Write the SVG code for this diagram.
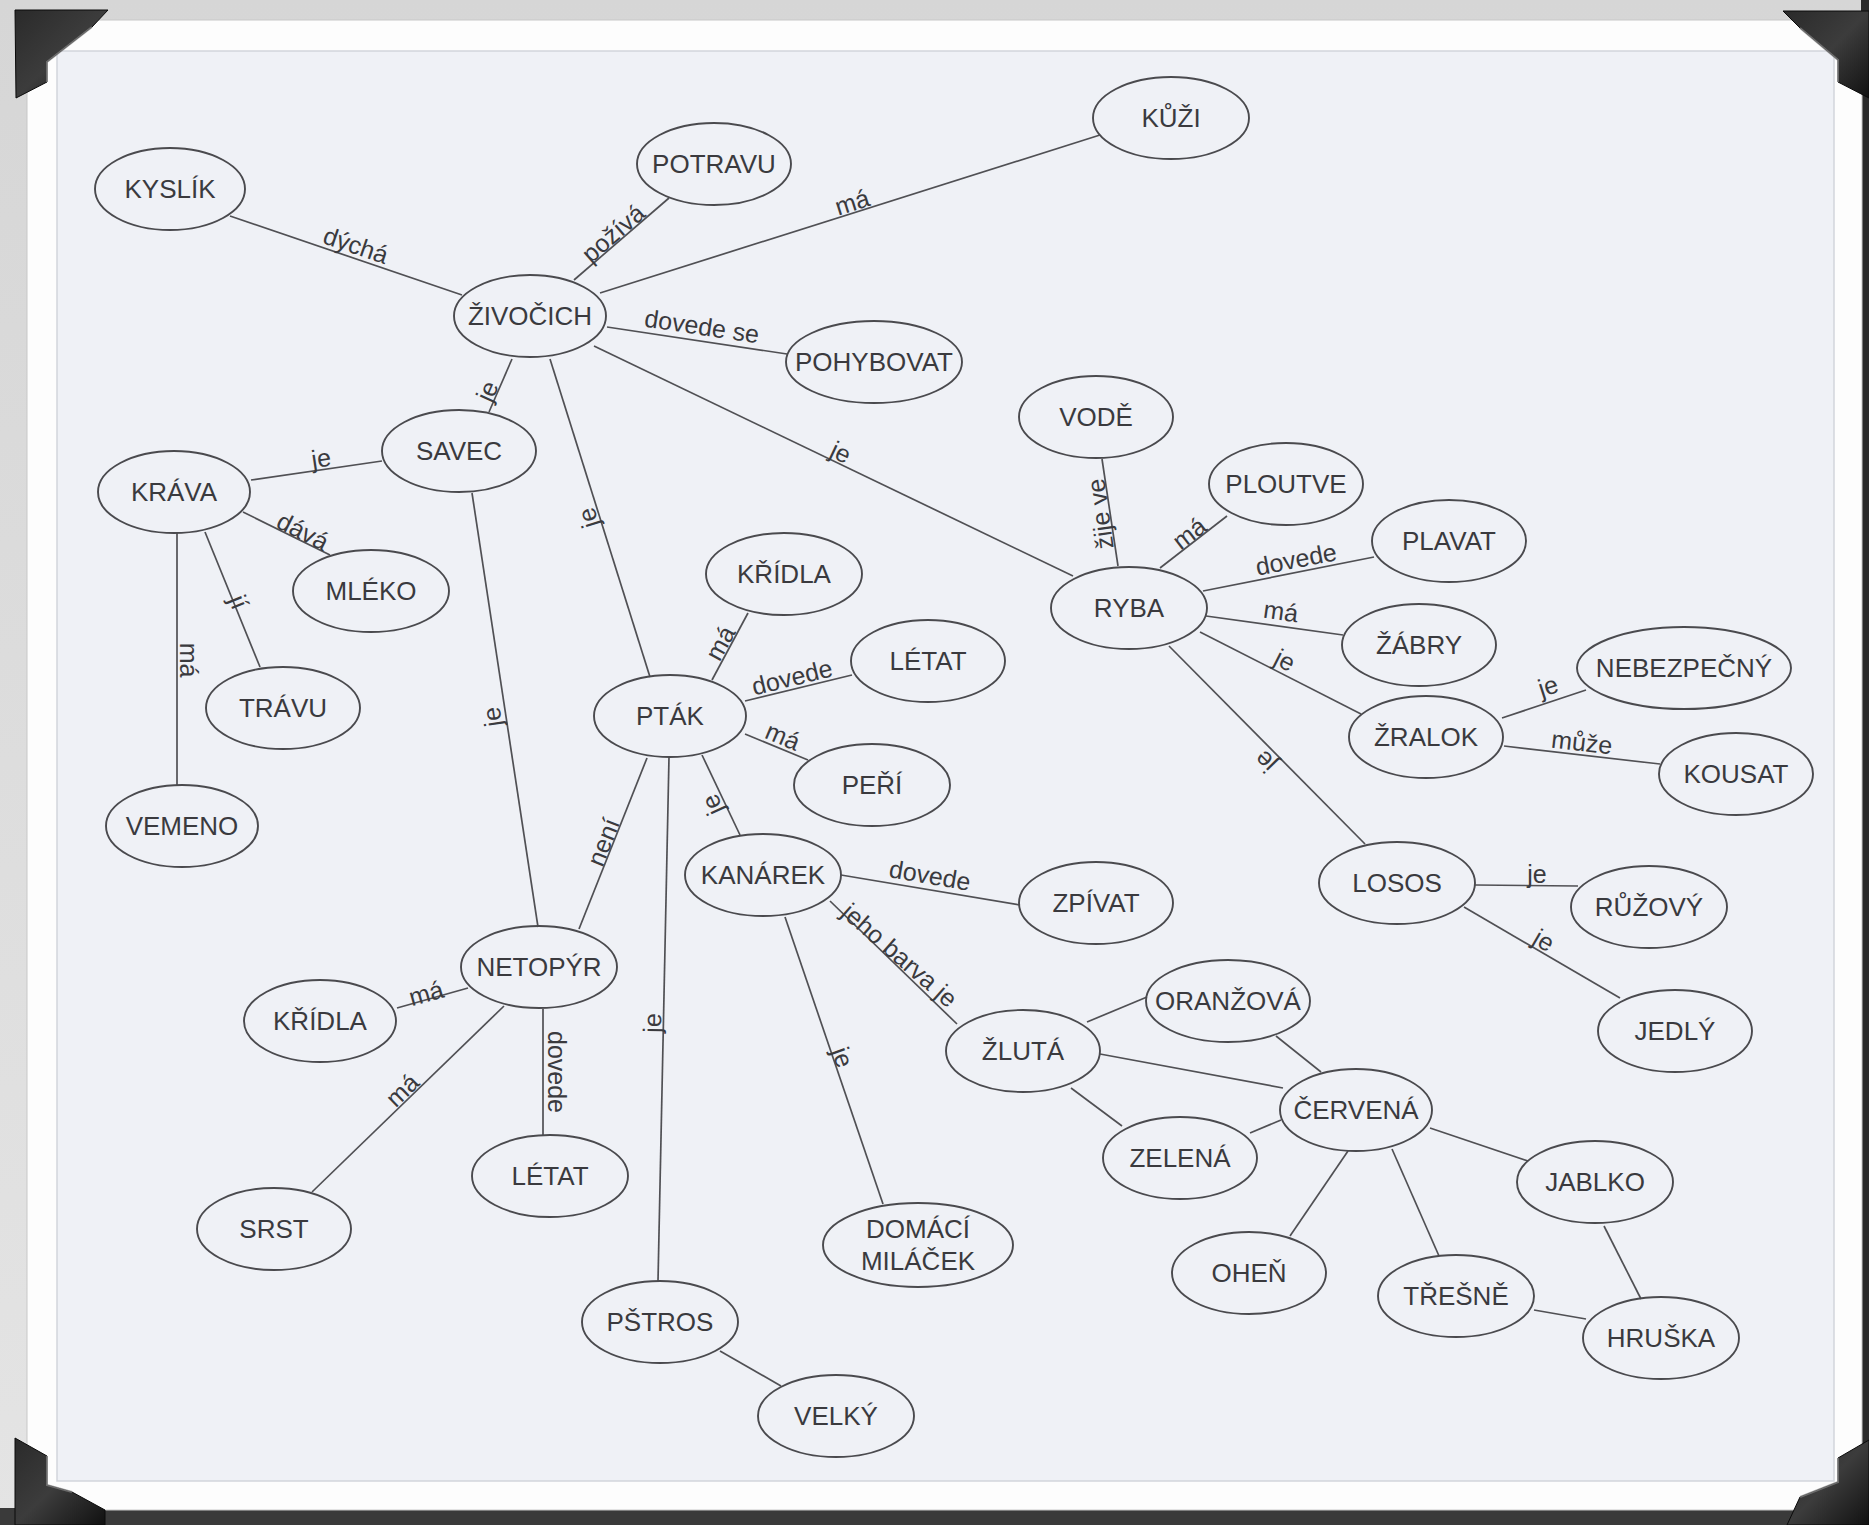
<svg xmlns="http://www.w3.org/2000/svg" width="1869" height="1525" viewBox="0 0 1869 1525">
<defs>
<style>
.n ellipse{fill:none;stroke:#4a4a4e;stroke-width:1.9}
.n text{font-family:"Liberation Sans",Arial,sans-serif;font-size:26px;fill:#3a3a3e;text-anchor:middle}
#connectors line{stroke:#505054;stroke-width:1.7}
#connector-labels text{font-family:"Liberation Sans",Arial,sans-serif;font-size:25px;fill:#3a3a3e;text-anchor:middle;dominant-baseline:central}
.corner{fill:url(#cg);stroke:#0a0a0a;stroke-width:1}
.bevel{fill:none;stroke:#8a8a8a;stroke-width:2;opacity:.7}
</style>
<linearGradient id="bg" x1="0" y1="0" x2="0" y2="1">
<stop offset="0" stop-color="#d6d6d6"/><stop offset="1" stop-color="#e4e4e4"/>
</linearGradient>
<linearGradient id="cg" x1="0" y1="0" x2="1" y2="1">
<stop offset="0" stop-color="#2a2a2a"/><stop offset=".5" stop-color="#3c3c3c"/><stop offset="1" stop-color="#111"/>
</linearGradient>
</defs>

<!-- frame -->
<rect x="0" y="0" width="1869" height="1525" fill="url(#bg)"/>
<rect x="0" y="1508" width="1869" height="17" fill="#3a3a3a"/>
<rect x="1861" y="0" width="8" height="1525" fill="#2a2a2a"/>
<rect x="27" y="20" width="1835" height="1490" fill="#fdfdfd" stroke="#c8c8c8" stroke-width="1"/>
<rect x="57" y="51" width="1777" height="1430" fill="#eff1f6" stroke="#d2d5db" stroke-width="1.5"/>

<g id="corners">
<polygon class="corner" points="15,10 108,10 92,27 47,62 47,82 16,98"/>
<polyline class="bevel" points="92,27 47,62 47,82"/>
<polygon class="corner" points="1783,11 1869,11 1869,98 1838,82 1838,60 1800,28"/>
<polyline class="bevel" points="1800,28 1838,60 1838,82"/>
<polygon class="corner" points="15,1438 47,1456 47,1485 72,1492 105,1510 105,1525 15,1525"/>
<polyline class="bevel" points="47,1456 47,1485 72,1492"/>
<polygon class="corner" points="1869,1440 1869,1525 1787,1525 1800,1497 1838,1482 1838,1458"/>
<polyline class="bevel" points="1838,1458 1838,1482 1800,1497"/>
</g>

<g id="connectors">
<line x1="230" y1="216" x2="462" y2="295"/>
<line x1="574" y1="280" x2="669" y2="198"/>
<line x1="600" y1="293" x2="1100" y2="135"/>
<line x1="607" y1="327" x2="787" y2="354"/>
<line x1="594" y1="346" x2="1073" y2="576"/>
<line x1="512" y1="359" x2="489" y2="412"/>
<line x1="550" y1="359" x2="650" y2="677"/>
<line x1="251" y1="480" x2="382" y2="461"/>
<line x1="243" y1="512" x2="330" y2="555"/>
<line x1="205" y1="532" x2="260" y2="667"/>
<line x1="177" y1="533" x2="177" y2="786"/>
<line x1="472" y1="493" x2="538" y2="927"/>
<line x1="712" y1="680" x2="748" y2="613"/>
<line x1="745" y1="701" x2="852" y2="675"/>
<line x1="745" y1="734" x2="808" y2="760"/>
<line x1="702" y1="755" x2="740" y2="835"/>
<line x1="647" y1="758" x2="579" y2="929"/>
<line x1="669" y1="757" x2="658" y2="1281"/>
<line x1="468" y1="988" x2="397" y2="1008"/>
<line x1="504" y1="1006" x2="312" y2="1192"/>
<line x1="543" y1="1009" x2="543" y2="1135"/>
<line x1="720" y1="1351" x2="781" y2="1386"/>
<line x1="841" y1="875" x2="1020" y2="905"/>
<line x1="830" y1="901" x2="957" y2="1024"/>
<line x1="785" y1="917" x2="883" y2="1204"/>
<line x1="1102" y1="459" x2="1118" y2="566"/>
<line x1="1160" y1="568" x2="1227" y2="516"/>
<line x1="1203" y1="591" x2="1374" y2="557"/>
<line x1="1206" y1="616" x2="1343" y2="635"/>
<line x1="1200" y1="632" x2="1361" y2="714"/>
<line x1="1169" y1="646" x2="1365" y2="844"/>
<line x1="1502" y1="718" x2="1586" y2="690"/>
<line x1="1504" y1="746" x2="1660" y2="764"/>
<line x1="1475" y1="885" x2="1578" y2="886"/>
<line x1="1464" y1="907" x2="1620" y2="998"/>
<line x1="1087" y1="1022" x2="1147" y2="997"/>
<line x1="1100" y1="1054" x2="1283" y2="1088"/>
<line x1="1071" y1="1088" x2="1122" y2="1126"/>
<line x1="1250" y1="1133" x2="1281" y2="1120"/>
<line x1="1276" y1="1036" x2="1321" y2="1072"/>
<line x1="1348" y1="1151" x2="1290" y2="1236"/>
<line x1="1392" y1="1149" x2="1439" y2="1256"/>
<line x1="1430" y1="1128" x2="1528" y2="1161"/>
<line x1="1604" y1="1226" x2="1641" y2="1299"/>
<line x1="1534" y1="1310" x2="1586" y2="1319"/>
</g>

<g id="connector-labels">
<text transform="translate(356 245) rotate(18.8)">dýchá</text>
<text transform="translate(613 233) rotate(-40.8)">požívá</text>
<text transform="translate(852 202) rotate(-17.5)">má</text>
<text transform="translate(702 326) rotate(8.4)">dovede se</text>
<text transform="translate(841 452) rotate(25.6)">je</text>
<text transform="translate(487 391) rotate(-66)">je</text>
<text transform="translate(588 518) rotate(-107)">je</text>
<text transform="translate(321 458) rotate(-8.3)">je</text>
<text transform="translate(303 531) rotate(27)">dává</text>
<text transform="translate(239 602) rotate(68)">jí</text>
<text transform="translate(189 660) rotate(90)">má</text>
<text transform="translate(492 717) rotate(-98.6)">je</text>
<text transform="translate(720 643) rotate(-61)">má</text>
<text transform="translate(792 677) rotate(-13.7)">dovede</text>
<text transform="translate(783 736) rotate(22.9)">má</text>
<text transform="translate(712 805) rotate(-114.5)">je</text>
<text transform="translate(603 842) rotate(-68.5)">není</text>
<text transform="translate(652 1023) rotate(-89)">je</text>
<text transform="translate(426 993) rotate(-15.7)">má</text>
<text transform="translate(402 1090) rotate(-44)">má</text>
<text transform="translate(557 1072) rotate(90)">dovede</text>
<text transform="translate(930 875) rotate(9.7)">dovede</text>
<text transform="translate(900 955) rotate(41)">jeho barva je</text>
<text transform="translate(843 1057) rotate(70)">je</text>
<text transform="translate(1100 514) rotate(-98)">žije ve</text>
<text transform="translate(1189 533) rotate(-37.5)">má</text>
<text transform="translate(1296 559) rotate(-11)">dovede</text>
<text transform="translate(1281 611) rotate(7.9)">má</text>
<text transform="translate(1285 660) rotate(27)">je</text>
<text transform="translate(1265 762) rotate(-134.7)">je</text>
<text transform="translate(1548 686) rotate(-18)">je</text>
<text transform="translate(1582 742) rotate(6.6)">může</text>
<text transform="translate(1537 874)">je</text>
<text transform="translate(1544 940) rotate(30)">je</text>
</g>

<g id="n-kyslik" class="n"><ellipse cx="170" cy="189" rx="75" ry="41"/><text x="170" y="198">KYSLÍK</text></g>
<g id="n-potravu" class="n"><ellipse cx="714" cy="164" rx="77" ry="41"/><text x="714" y="173">POTRAVU</text></g>
<g id="n-kuzi" class="n"><ellipse cx="1171" cy="118" rx="78" ry="41"/><text x="1171" y="127">KŮŽI</text></g>
<g id="n-zivocich" class="n"><ellipse cx="530" cy="316" rx="76" ry="41"/><text x="530" y="325">ŽIVOČICH</text></g>
<g id="n-pohybovat" class="n"><ellipse cx="874" cy="362" rx="88" ry="41"/><text x="874" y="371">POHYBOVAT</text></g>
<g id="n-savec" class="n"><ellipse cx="459" cy="451" rx="77" ry="41"/><text x="459" y="460">SAVEC</text></g>
<g id="n-krava" class="n"><ellipse cx="174" cy="492" rx="76" ry="41"/><text x="174" y="501">KRÁVA</text></g>
<g id="n-vode" class="n"><ellipse cx="1096" cy="417" rx="77" ry="41"/><text x="1096" y="426">VODĚ</text></g>
<g id="n-ploutve" class="n"><ellipse cx="1286" cy="484" rx="77" ry="41"/><text x="1286" y="493">PLOUTVE</text></g>
<g id="n-plavat" class="n"><ellipse cx="1449" cy="541" rx="77" ry="41"/><text x="1449" y="550">PLAVAT</text></g>
<g id="n-mleko" class="n"><ellipse cx="371" cy="591" rx="78" ry="41"/><text x="371" y="600">MLÉKO</text></g>
<g id="n-kridla-ptak" class="n"><ellipse cx="784" cy="574" rx="78" ry="41"/><text x="784" y="583">KŘÍDLA</text></g>
<g id="n-ryba" class="n"><ellipse cx="1129" cy="608" rx="78" ry="41"/><text x="1129" y="617">RYBA</text></g>
<g id="n-zabry" class="n"><ellipse cx="1419" cy="645" rx="77" ry="41"/><text x="1419" y="654">ŽÁBRY</text></g>
<g id="n-nebezpecny" class="n"><ellipse cx="1684" cy="668" rx="107" ry="41"/><text x="1684" y="677">NEBEZPEČNÝ</text></g>
<g id="n-letat-ptak" class="n"><ellipse cx="928" cy="661" rx="77" ry="41"/><text x="928" y="670">LÉTAT</text></g>
<g id="n-travu" class="n"><ellipse cx="283" cy="708" rx="77" ry="41"/><text x="283" y="717">TRÁVU</text></g>
<g id="n-ptak" class="n"><ellipse cx="670" cy="716" rx="76" ry="41"/><text x="670" y="725">PTÁK</text></g>
<g id="n-zralok" class="n"><ellipse cx="1426" cy="737" rx="77" ry="41"/><text x="1426" y="746">ŽRALOK</text></g>
<g id="n-kousat" class="n"><ellipse cx="1736" cy="774" rx="77" ry="41"/><text x="1736" y="783">KOUSAT</text></g>
<g id="n-peri" class="n"><ellipse cx="872" cy="785" rx="78" ry="41"/><text x="872" y="794">PEŘÍ</text></g>
<g id="n-vemeno" class="n"><ellipse cx="182" cy="826" rx="76" ry="41"/><text x="182" y="835">VEMENO</text></g>
<g id="n-kanarek" class="n"><ellipse cx="763" cy="875" rx="78" ry="41"/><text x="763" y="884">KANÁREK</text></g>
<g id="n-losos" class="n"><ellipse cx="1397" cy="883" rx="78" ry="41"/><text x="1397" y="892">LOSOS</text></g>
<g id="n-zpivat" class="n"><ellipse cx="1096" cy="903" rx="77" ry="41"/><text x="1096" y="912">ZPÍVAT</text></g>
<g id="n-ruzovy" class="n"><ellipse cx="1649" cy="907" rx="78" ry="41"/><text x="1649" y="916">RŮŽOVÝ</text></g>
<g id="n-netopyr" class="n"><ellipse cx="539" cy="967" rx="78" ry="41"/><text x="539" y="976">NETOPÝR</text></g>
<g id="n-oranzova" class="n"><ellipse cx="1228" cy="1001" rx="82" ry="41"/><text x="1228" y="1010">ORANŽOVÁ</text></g>
<g id="n-kridla-netopyr" class="n"><ellipse cx="320" cy="1021" rx="76" ry="41"/><text x="320" y="1030">KŘÍDLA</text></g>
<g id="n-jedly" class="n"><ellipse cx="1675" cy="1031" rx="77" ry="41"/><text x="1675" y="1040">JEDLÝ</text></g>
<g id="n-zluta" class="n"><ellipse cx="1023" cy="1051" rx="77" ry="41"/><text x="1023" y="1060">ŽLUTÁ</text></g>
<g id="n-cervena" class="n"><ellipse cx="1356" cy="1110" rx="76" ry="41"/><text x="1356" y="1119">ČERVENÁ</text></g>
<g id="n-zelena" class="n"><ellipse cx="1180" cy="1158" rx="77" ry="41"/><text x="1180" y="1167">ZELENÁ</text></g>
<g id="n-letat-netopyr" class="n"><ellipse cx="550" cy="1176" rx="78" ry="41"/><text x="550" y="1185">LÉTAT</text></g>
<g id="n-jablko" class="n"><ellipse cx="1595" cy="1182" rx="78" ry="41"/><text x="1595" y="1191">JABLKO</text></g>
<g id="n-srst" class="n"><ellipse cx="274" cy="1229" rx="77" ry="41"/><text x="274" y="1238">SRST</text></g>
<g id="n-domaci-milacek" class="n"><ellipse cx="918" cy="1245" rx="95" ry="42"/><text x="918" y="1238">DOMÁCÍ</text><text x="918" y="1270">MILÁČEK</text></g>
<g id="n-ohen" class="n"><ellipse cx="1249" cy="1273" rx="77" ry="41"/><text x="1249" y="1282">OHEŇ</text></g>
<g id="n-tresne" class="n"><ellipse cx="1456" cy="1296" rx="78" ry="41"/><text x="1456" y="1305">TŘEŠNĚ</text></g>
<g id="n-pstros" class="n"><ellipse cx="660" cy="1322" rx="78" ry="41"/><text x="660" y="1331">PŠTROS</text></g>
<g id="n-hruska" class="n"><ellipse cx="1661" cy="1338" rx="78" ry="41"/><text x="1661" y="1347">HRUŠKA</text></g>
<g id="n-velky" class="n"><ellipse cx="836" cy="1416" rx="78" ry="41"/><text x="836" y="1425">VELKÝ</text></g>
</svg>
